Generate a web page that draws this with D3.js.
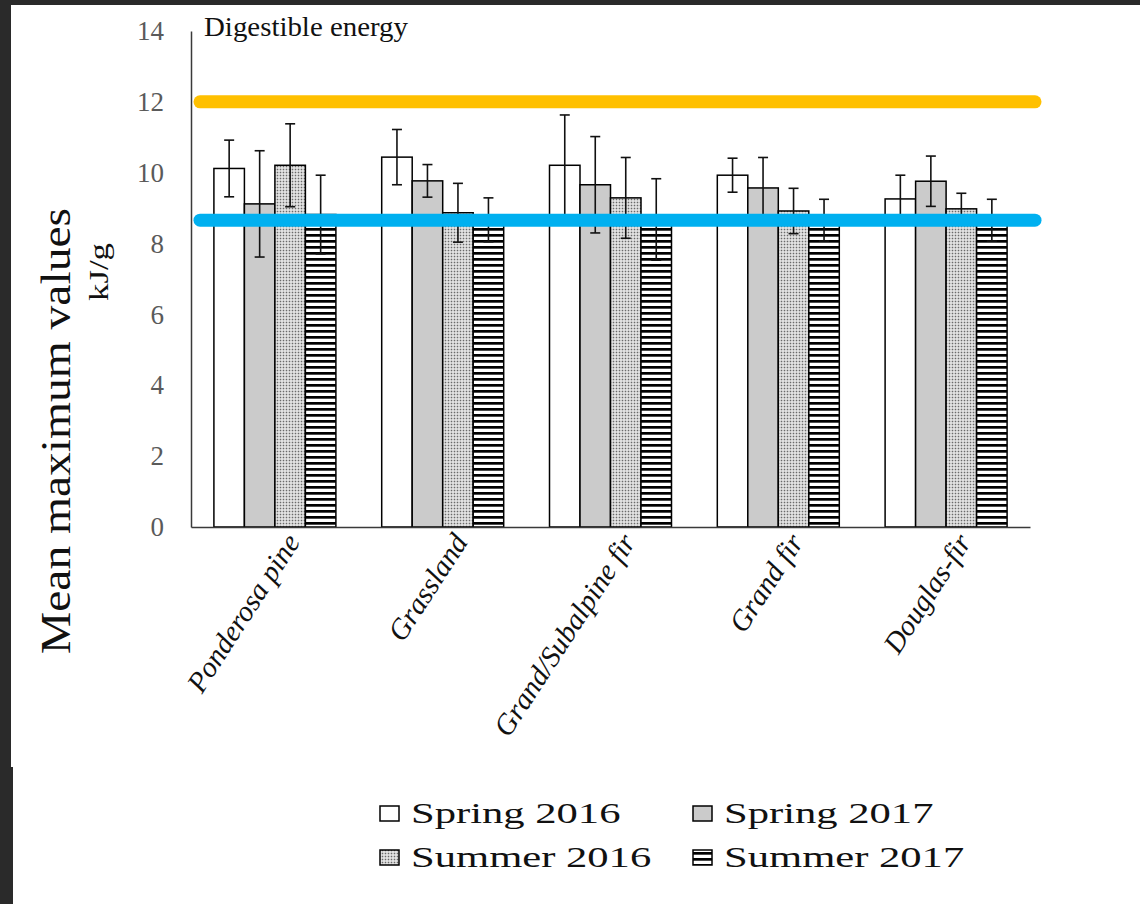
<!DOCTYPE html>
<html><head><meta charset="utf-8">
<script src="https://cdn.jsdelivr.net/npm/d3@7"></script>
<style>body{margin:0;background:#fff}svg{display:block}</style>
</head><body><svg id="c" width="1140" height="904"></svg>
<script>
// ---- data ----
const categories = ["Ponderosa pine", "Grassland", "Grand/Subalpine fir", "Grand fir", "Douglas-fir"];
const seriesNames = ["Spring 2016", "Spring 2017", "Summer 2016", "Summer 2017"];
const spring2016 = [10.12, 10.44, 10.21, 9.93, 9.26];
const spring2016Err = [0.80, 0.78, 1.42, 0.48, 0.67];
const spring2017 = [9.12, 9.77, 9.66, 9.57, 9.76];
const spring2017Err = [1.50, 0.46, 1.36, 0.86, 0.71];
const summer2016 = [10.21, 8.87, 9.29, 8.92, 8.98];
const summer2016Err = [1.17, 0.83, 1.14, 0.64, 0.44];
const summer2017 = [8.82, 8.67, 8.68, 8.66, 8.66];
const summer2017Err = [1.11, 0.62, 1.15, 0.59, 0.59];
const yTicks = [0, 2, 4, 6, 8, 10, 12, 14];
const refLineValues = [12, 8.66];
const titleText = "Digestible energy";
const yLabel = "Mean maximum values";
const yUnit = "kJ/g";

const seriesValues = [spring2016, spring2017, summer2016, summer2017];
const seriesErrors = [spring2016Err, spring2017Err, summer2016Err, summer2017Err];

// ---- setup ----
const svg = d3.select("#c");
const W = 1140, H = 904;
const L = 191, R = 1030, T = 31, B = 527;

// background frame
svg.append("rect").attr("width", W).attr("height", H).attr("fill", "#fff");
svg.append("rect").attr("x", 0).attr("y", 0).attr("width", W).attr("height", 5).attr("fill", "#2a2a2a");
svg.append("rect").attr("x", 0).attr("y", 0).attr("width", 11).attr("height", 767).attr("fill", "#2a2a2a");
svg.append("rect").attr("x", 0).attr("y", 767).attr("width", 13).attr("height", H - 767).attr("fill", "#2a2a2a");

// patterns
const defs = svg.append("defs");
const dots = defs.append("pattern").attr("id", "dots").attr("patternUnits", "userSpaceOnUse")
  .attr("width", 3).attr("height", 3);
dots.append("rect").attr("width", 3).attr("height", 3).attr("fill", "#ececec");
dots.append("rect").attr("x", 0.7).attr("y", 0.7).attr("width", 1.6).attr("height", 1.6).attr("fill", "#6a6a6a");
const stripes = defs.append("pattern").attr("id", "stripes").attr("patternUnits", "userSpaceOnUse")
  .attr("width", 6).attr("height", 6);
stripes.append("rect").attr("width", 6).attr("height", 6).attr("fill", "#fff");
stripes.append("rect").attr("y", 0).attr("width", 6).attr("height", 2.7).attr("fill", "#000");

const fills = ["#ffffff", "#cbcbcb", "url(#dots)", "url(#stripes)"];

// scales
const x0 = d3.scaleBand().domain(categories).range([L, R]).paddingInner(0.273).paddingOuter(0.1365);
const x1 = d3.scaleBand().domain(seriesNames).range([0, x0.bandwidth()]);
const y = d3.scaleLinear().domain([0, 14]).range([B, T]);

// bars
const g = svg.append("g");
seriesNames.forEach((s, si) => {
  g.selectAll(".bar" + si).data(categories).enter().append("rect")
    .attr("x", c => x0(c) + x1(s))
    .attr("y", (c, i) => y(seriesValues[si][i]))
    .attr("width", x1.bandwidth())
    .attr("height", (c, i) => y(0) - y(seriesValues[si][i]))
    .attr("fill", fills[si])
    .attr("stroke", "#000").attr("stroke-width", 1.5);
});

// error bars
seriesNames.forEach((s, si) => {
  categories.forEach((c, i) => {
    const cx = x0(c) + x1(s) + x1.bandwidth() / 2;
    const v = seriesValues[si][i], e = seriesErrors[si][i];
    const eg = g.append("g").attr("stroke", "#111").attr("stroke-width", 1.6);
    eg.append("line").attr("x1", cx).attr("x2", cx).attr("y1", y(v + e)).attr("y2", y(v - e));
    eg.append("line").attr("x1", cx - 5).attr("x2", cx + 5).attr("y1", y(v + e)).attr("y2", y(v + e));
    eg.append("line").attr("x1", cx - 5).attr("x2", cx + 5).attr("y1", y(v - e)).attr("y2", y(v - e));
  });
});

// axes
const yAxis = d3.axisLeft(y).tickValues(yTicks).tickSize(0).tickPadding(27).tickFormat(d3.format("d"));
const ya = svg.append("g").attr("transform", `translate(${L},0)`).call(yAxis);
ya.select(".domain").attr("stroke", "#3a3a3a").attr("stroke-width", 1.5);
ya.selectAll("text").attr("font-family", "Liberation Serif, Times New Roman, serif")
  .attr("font-size", 27).attr("fill", "#5a5a5a");

const xAxis = d3.axisBottom(x0).tickSize(0).tickSizeOuter(0);
const xa = svg.append("g").attr("transform", `translate(0,${B})`).call(xAxis);
xa.select(".domain").attr("stroke", "#3a3a3a").attr("stroke-width", 1.5);
xa.selectAll("text")
  .attr("font-family", "Liberation Serif, Times New Roman, serif")
  .attr("font-style", "italic")
  .attr("font-size", 29).attr("fill", "#111")
  .attr("x", 0).attr("y", 0).attr("dy", 0)
  .attr("text-anchor", "end")
  .attr("transform", "translate(26,15) rotate(-57)");

// reference lines (on top)
const refColors = ["#ffc000", "#00b0f0"];
svg.selectAll(".ref").data(refLineValues).enter().append("line")
  .attr("x1", 200).attr("x2", 1035)
  .attr("y1", d => y(d)).attr("y2", d => y(d))
  .attr("stroke", (d, i) => refColors[i]).attr("stroke-width", 13)
  .attr("stroke-linecap", "round");

// title
svg.append("text").attr("x", 204).attr("y", 36)
  .attr("font-family", "Liberation Serif, Times New Roman, serif").attr("font-size", 27)
  .attr("fill", "#111").attr("textLength", 204).attr("lengthAdjust", "spacingAndGlyphs")
  .text(titleText);

// y labels
svg.append("text").attr("transform", "translate(70,431) rotate(-90)")
  .attr("text-anchor", "middle")
  .attr("font-family", "Liberation Serif, Times New Roman, serif").attr("font-size", 42)
  .attr("fill", "#111").attr("textLength", 446).attr("lengthAdjust", "spacingAndGlyphs")
  .text(yLabel);
svg.append("text").attr("transform", "translate(108,272) rotate(-90)")
  .attr("text-anchor", "middle")
  .attr("font-family", "Liberation Serif, Times New Roman, serif").attr("font-size", 28)
  .attr("fill", "#111").attr("textLength", 58).attr("lengthAdjust", "spacingAndGlyphs")
  .text(yUnit);

// legend
const legPos = [[380, 823], [693, 823], [380, 867], [693, 867]];
const leg = svg.append("g");
seriesNames.forEach((s, i) => {
  const [lx, ly] = legPos[i];
  leg.append("rect").attr("x", lx).attr("y", ly - 17).attr("width", 19).attr("height", 15)
    .attr("fill", fills[i]).attr("stroke", "#000").attr("stroke-width", 1.5);
  const t = leg.append("text").attr("x", lx + 31).attr("y", ly)
    .attr("font-family", "Liberation Serif, Times New Roman, serif").attr("font-size", 30)
    .attr("fill", "#111").text(s);
  const w = t.node().getComputedTextLength();
  t.attr("textLength", w * 1.42).attr("lengthAdjust", "spacingAndGlyphs");
});
</script>
</body></html>
